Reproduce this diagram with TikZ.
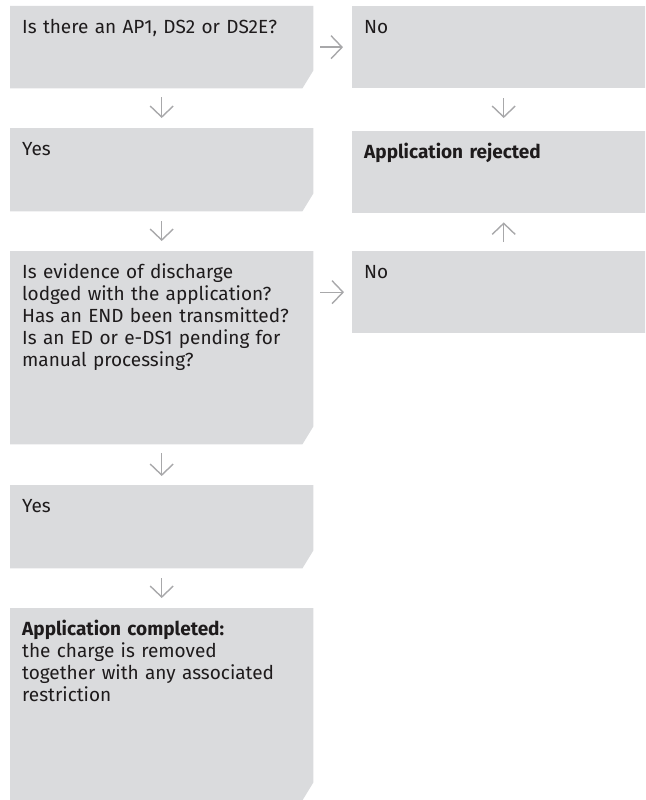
\documentclass[tikz,border=0pt]{standalone}
\usepackage{fontspec}
\setmainfont{Fira Sans}
\usetikzlibrary{arrows.meta,backgrounds}
\definecolor{boxgrey}{RGB}{218,219,221}
\definecolor{arrowgrey}{RGB}{168,168,170}
\definecolor{inkgrey}{RGB}{30,27,28}
\tikzset{
	flowbox/.style={anchor=north west, inner xsep=12pt, inner ysep=0pt, text width=279pt, align=left, text height=27pt, text=inkgrey, font=\fontsize{19}{22}\selectfont},
	sidebox/.style={flowbox, fill=boxgrey},
	flowarrow/.style={draw=arrowgrey, line width=1.4pt, shorten <=10pt, shorten >=10pt, -{Straight Barb[length=11pt,width=23pt]}},
}
\begin{document}
\begin{tikzpicture}[x=1pt,y=-1pt]
	      	\clip (0,0) rectangle (645,800);
	      	\node[flowbox, text depth=55pt] (q1) at (10,6) {Is there an AP1, DS2 or DS2E?};
	      	\node[flowbox, text depth=56pt] (yes1) at (10,128) {Yes};
	      	\node[flowbox, text depth=166pt] (q2) at (10,251) {Is evidence of discharge\\ lodged with the application?\\ Has an END been transmitted?\\ Is an ED or e-DS1 pending for\\ manual processing?};
	      	\node[flowbox, text depth=56pt] (yes2) at (10,485) {Yes};
	      	\node[flowbox, text depth=165pt] (done) at (10,608) {\textbf{Application completed:}\\ the charge is removed\\ together with any associated\\ restriction};
	      	\node[sidebox, text depth=55pt] (no1) at (352,6) {No};
	      	\node[sidebox, text depth=55pt] (rej) at (352,131) {\textbf{Application rejected}};
	      	\node[sidebox, text depth=55pt] (no2) at (352,251) {No};
	      	\begin{scope}[on background layer]
	      		\foreach \n in {q1,yes1,q2,yes2,done}
	      			\fill[boxgrey] (\n.north west) -- (\n.north east) -- ([yshift=18pt]\n.south east) -- ([xshift=-11pt]\n.south east) -- (\n.south west) -- cycle;
	      	\end{scope}
	      	\draw[flowarrow, shorten <=9pt] (q1) -- (yes1);
	      	\draw[flowarrow] (yes1) -- (q2);
	      	\draw[flowarrow, shorten <=9pt, shorten >=9pt] (q2) -- (yes2);
	      	\draw[flowarrow] (yes2) -- (done);
	      	\draw[flowarrow, shorten <=7pt, shorten >=9pt] (q1) -- (no1);
	      	\draw[flowarrow, shorten <=7pt, shorten >=8pt] (q2.east |- no2) -- (no2);
	      	\draw[flowarrow, shorten >=13pt] (no1) -- (rej);
	      	\draw[flowarrow, shorten <=9pt, shorten >=9pt] (no2) -- (rej);
	      \end{tikzpicture}
\end{document}
